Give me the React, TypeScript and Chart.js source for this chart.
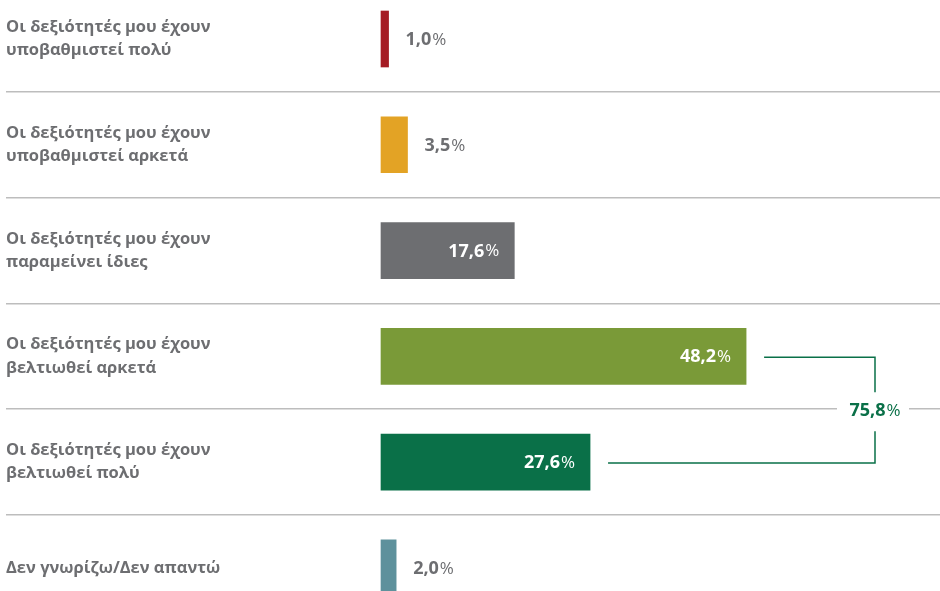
import React, { useEffect, useRef } from 'react';
import { Chart, registerables } from 'chart.js';

Chart.register(...registerables);

const categories: string[][] = [
  ['Οι δεξιότητές μου έχουν', 'υποβαθμιστεί πολύ'],
  ['Οι δεξιότητές μου έχουν', 'υποβαθμιστεί αρκετά'],
  ['Οι δεξιότητές μου έχουν', 'παραμείνει ίδιες'],
  ['Οι δεξιότητές μου έχουν', 'βελτιωθεί αρκετά'],
  ['Οι δεξιότητές μου έχουν', 'βελτιωθεί πολύ'],
  ['Δεν γνωρίζω/Δεν απαντώ'],
];
const values: number[] = [1.0, 3.5, 17.6, 48.2, 27.6, 2.0];
const barColors: string[] = ['#A51C24', '#E3A325', '#6D6E71', '#7A9A38', '#0A7048', '#5E919C'];
const bracketIndices: number[] = [3, 4];

const TEXT_GREY = '#6D6E71';
const GREEN = '#0A7048';
const FONT = '"Open Sans", "Noto Sans", sans-serif';

const fmt = (v: number) => v.toFixed(1).replace('.', ',');

function drawValue(
  ctx: CanvasRenderingContext2D,
  text: string,
  x: number,
  y: number,
  align: 'left' | 'right' | 'center',
  color: string
) {
  ctx.save();
  ctx.textBaseline = 'middle';
  ctx.textAlign = 'left';
  ctx.fillStyle = color;
  const numFont = `700 18px ${FONT}`;
  const pctFont = `400 17px ${FONT}`;
  ctx.font = numFont;
  const w1 = ctx.measureText(text).width;
  ctx.font = pctFont;
  const w2 = ctx.measureText('%').width + 1;
  const total = w1 + w2;
  const x0 = align === 'left' ? x : align === 'right' ? x - total : x - total / 2;
  ctx.font = numFont;
  ctx.fillText(text, x0, y);
  ctx.font = pctFont;
  ctx.fillText('%', x0 + w1 + 1, y);
  ctx.restore();
}

const labelsPlugin = {
  id: 'valueLabels',
  afterDatasetsDraw(chart: any) {
    const ctx: CanvasRenderingContext2D = chart.ctx;
    const meta = chart.getDatasetMeta(0);
    meta.data.forEach((bar: any, i: number) => {
      const v = values[i];
      if (v > 10) {
        drawValue(ctx, fmt(v), bar.x - 15, bar.y + 1, 'right', '#FFFFFF');
      } else {
        drawValue(ctx, fmt(v), bar.x + 17, bar.y + 1, 'left', TEXT_GREY);
      }
    });

    // bracket summing two rows
    const a = meta.data[bracketIndices[0]];
    const b = meta.data[bracketIndices[1]];
    const total = bracketIndices.reduce((s, i) => s + values[i], 0);
    const xA = a.x + 18;
    const yA = a.y + 1;
    const xB = b.x + 18;
    const yB = b.y + 1;
    const xv = chart.chartArea.right - 65;
    const ym = (yA + yB) / 2;
    ctx.save();
    ctx.fillStyle = '#FFFFFF';
    ctx.fillRect(xv - 38, ym - 5, 72, 10);
    ctx.strokeStyle = GREEN;
    ctx.lineWidth = 1.5;
    ctx.beginPath();
    ctx.moveTo(xA, yA);
    ctx.lineTo(xv, yA);
    ctx.lineTo(xv, ym - 18);
    ctx.moveTo(xv, ym + 21);
    ctx.lineTo(xv, yB);
    ctx.lineTo(xB, yB);
    ctx.stroke();
    ctx.restore();
    drawValue(ctx, fmt(total), xv, ym + 1, 'center', GREEN);
  },
};

export default function App() {
  const ref = useRef<HTMLCanvasElement | null>(null);
  useEffect(() => {
    if (!ref.current) return;
    const chart = new Chart(ref.current, {
      type: 'bar',
      data: {
        labels: categories,
        datasets: [
          {
            data: values,
            backgroundColor: barColors,
            borderWidth: 0,
            barThickness: 56,
            clip: false as any,
          },
        ],
      },
      options: {
        indexAxis: 'y',
        animation: false,
        responsive: false,
        maintainAspectRatio: false,
        devicePixelRatio: 1,
        layout: { padding: { left: 6, top: 39, bottom: 22, right: 0 } },
        plugins: {
          legend: { display: false },
          tooltip: { enabled: false },
        },
        scales: {
          x: {
            display: false,
            min: 0,
            max: 73.8,
          },
          y: {
            offset: false,
            border: { display: false },
            grid: {
              offset: true,
              color: '#BDBDBD',
              lineWidth: 1.5,
              drawTicks: true,
              tickLength: 375,
              tickColor: '#BDBDBD',
              tickWidth: 1.5,
            },
            ticks: {
              autoSkip: false,
              crossAlign: 'far',
              padding: 0,
              color: TEXT_GREY,
              font: { family: FONT, size: 16.5, weight: '700', lineHeight: 1.4 },
            },
            afterFit(scale: any) {
              scale.width = 375;
            },
          },
        },
      },
      plugins: [labelsPlugin],
    });
    return () => chart.destroy();
  }, []);

  return (
    <div style={{ position: 'fixed', left: 0, top: 0, width: 940, height: 591, background: '#fff' }}>
      <canvas ref={ref} width={940} height={591} style={{ width: 940, height: 591, display: 'block' }} />
    </div>
  );
}
